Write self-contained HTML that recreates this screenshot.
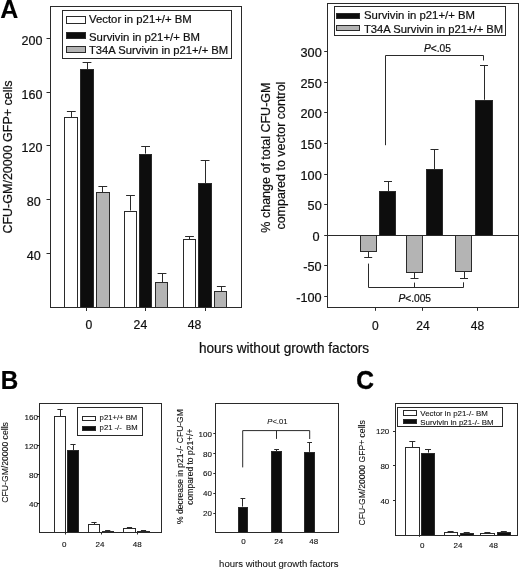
<!DOCTYPE html>
<html><head><meta charset="utf-8"><title>Figure</title>
<style>
html,body{margin:0;padding:0;background:#fff;}
body{width:520px;height:570px;overflow:hidden;}
svg{display:block;font-family:"Liberation Sans", sans-serif;}
</style></head>
<body>
<svg width="520" height="570" viewBox="0 0 520 570">
<defs><filter id="soft" x="0" y="0" width="100%" height="100%"><feGaussianBlur stdDeviation="0.35"/></filter></defs>
<rect x="0" y="0" width="520" height="570" fill="#fff"/>
<g filter="url(#soft)">
<rect x="0" y="0" width="520" height="570" fill="#fff"/>
<text font-size="25" text-anchor="start" font-weight="bold" transform="translate(0.2 17.6)" fill="#000" stroke="#000" stroke-width="0.1">A</text>
<rect x="50.50" y="6.50" width="191.00" height="301.00" fill="none" stroke="#2a2a2a" stroke-width="1"/>
<line x1="46.5" y1="38.5" x2="50.5" y2="38.5" stroke="#2a2a2a" stroke-width="1"/>
<text font-size="12.3" text-anchor="end" transform="translate(42.4 44.5) scale(1.02 1.0)" fill="#111" stroke="#111" stroke-width="0.22">200</text>
<line x1="46.5" y1="92.5" x2="50.5" y2="92.5" stroke="#2a2a2a" stroke-width="1"/>
<text font-size="12.3" text-anchor="end" transform="translate(42.4 98.5) scale(1.02 1.0)" fill="#111" stroke="#111" stroke-width="0.22">160</text>
<line x1="46.5" y1="145.5" x2="50.5" y2="145.5" stroke="#2a2a2a" stroke-width="1"/>
<text font-size="12.3" text-anchor="end" transform="translate(42.4 151.5) scale(1.02 1.0)" fill="#111" stroke="#111" stroke-width="0.22">120</text>
<line x1="46.5" y1="199.5" x2="50.5" y2="199.5" stroke="#2a2a2a" stroke-width="1"/>
<text font-size="12.3" text-anchor="end" transform="translate(40.8 205.5) scale(1.02 1.0)" fill="#111" stroke="#111" stroke-width="0.22">80</text>
<line x1="46.5" y1="253.5" x2="50.5" y2="253.5" stroke="#2a2a2a" stroke-width="1"/>
<text font-size="12.3" text-anchor="end" transform="translate(40.8 259.5) scale(1.02 1.0)" fill="#111" stroke="#111" stroke-width="0.22">40</text>
<line x1="86.5" y1="307.5" x2="86.5" y2="311" stroke="#2a2a2a" stroke-width="1"/>
<line x1="145.5" y1="307.5" x2="145.5" y2="311" stroke="#2a2a2a" stroke-width="1"/>
<line x1="205.5" y1="307.5" x2="205.5" y2="311" stroke="#2a2a2a" stroke-width="1"/>
<text font-size="12.2" text-anchor="middle" transform="translate(88.8 329)" fill="#111" stroke="#111" stroke-width="0.22">0</text>
<text font-size="12.2" text-anchor="middle" transform="translate(140.4 329)" fill="#111" stroke="#111" stroke-width="0.22">24</text>
<text font-size="12.2" text-anchor="middle" transform="translate(194.6 329)" fill="#111" stroke="#111" stroke-width="0.22">48</text>
<line x1="71.5" y1="117.3" x2="71.5" y2="111.6" stroke="#2a2a2a" stroke-width="1"/>
<line x1="66.89999999999999" y1="111.5" x2="75.7" y2="111.5" stroke="#2a2a2a" stroke-width="1"/>
<rect x="64.50" y="117.50" width="13.00" height="190.00" fill="#ffffff" stroke="#2a2a2a" stroke-width="1"/>
<line x1="87.5" y1="69.1" x2="87.5" y2="62.2" stroke="#2a2a2a" stroke-width="1"/>
<line x1="82.6" y1="62.5" x2="91.4" y2="62.5" stroke="#2a2a2a" stroke-width="1"/>
<rect x="80.50" y="69.50" width="13.00" height="238.00" fill="#080808" stroke="#2a2a2a" stroke-width="1"/>
<line x1="102.5" y1="192.2" x2="102.5" y2="186.0" stroke="#2a2a2a" stroke-width="1"/>
<line x1="98.39999999999999" y1="186.5" x2="107.2" y2="186.5" stroke="#2a2a2a" stroke-width="1"/>
<rect x="96.50" y="192.50" width="13.00" height="115.00" fill="#b4b4b4" stroke="#2a2a2a" stroke-width="1"/>
<line x1="130.5" y1="210.5" x2="130.5" y2="195.9" stroke="#2a2a2a" stroke-width="1"/>
<line x1="126.1" y1="195.5" x2="134.9" y2="195.5" stroke="#2a2a2a" stroke-width="1"/>
<rect x="124.50" y="211.50" width="12.00" height="96.00" fill="#ffffff" stroke="#2a2a2a" stroke-width="1"/>
<line x1="145.5" y1="153.6" x2="145.5" y2="146.9" stroke="#2a2a2a" stroke-width="1"/>
<line x1="141.2" y1="146.5" x2="150.0" y2="146.5" stroke="#2a2a2a" stroke-width="1"/>
<rect x="139.50" y="154.50" width="12.00" height="153.00" fill="#080808" stroke="#2a2a2a" stroke-width="1"/>
<line x1="162.5" y1="282.3" x2="162.5" y2="273.6" stroke="#2a2a2a" stroke-width="1"/>
<line x1="157.6" y1="273.5" x2="166.4" y2="273.5" stroke="#2a2a2a" stroke-width="1"/>
<rect x="155.50" y="282.50" width="12.00" height="25.00" fill="#b4b4b4" stroke="#2a2a2a" stroke-width="1"/>
<line x1="189.5" y1="239.2" x2="189.5" y2="236.7" stroke="#2a2a2a" stroke-width="1"/>
<line x1="185.1" y1="236.5" x2="193.9" y2="236.5" stroke="#2a2a2a" stroke-width="1"/>
<rect x="183.50" y="239.50" width="12.00" height="68.00" fill="#ffffff" stroke="#2a2a2a" stroke-width="1"/>
<line x1="205.5" y1="183.1" x2="205.5" y2="160.0" stroke="#2a2a2a" stroke-width="1"/>
<line x1="200.7" y1="160.5" x2="209.5" y2="160.5" stroke="#2a2a2a" stroke-width="1"/>
<rect x="198.50" y="183.50" width="13.00" height="124.00" fill="#080808" stroke="#2a2a2a" stroke-width="1"/>
<line x1="221.5" y1="291.3" x2="221.5" y2="286.5" stroke="#2a2a2a" stroke-width="1"/>
<line x1="216.9" y1="286.5" x2="225.70000000000002" y2="286.5" stroke="#2a2a2a" stroke-width="1"/>
<rect x="214.50" y="291.50" width="12.00" height="16.00" fill="#b4b4b4" stroke="#2a2a2a" stroke-width="1"/>
<rect x="62.50" y="10.50" width="169.00" height="48.00" fill="#ffffff" stroke="#2a2a2a" stroke-width="1"/>
<rect x="66.50" y="16.50" width="19.00" height="7.00" fill="#ffffff" stroke="#2a2a2a" stroke-width="1"/>
<rect x="66.50" y="32.50" width="19.00" height="6.00" fill="#080808" stroke="#2a2a2a" stroke-width="1"/>
<rect x="66.50" y="46.50" width="19.00" height="6.00" fill="#b4b4b4" stroke="#2a2a2a" stroke-width="1"/>
<text font-size="11.35" text-anchor="start" transform="translate(89.0 23.4)" fill="#111" stroke="#111" stroke-width="0.22">Vector in p21+/+ BM</text>
<text font-size="11.35" text-anchor="start" transform="translate(89.0 40.6)" fill="#111" stroke="#111" stroke-width="0.22">Survivin in p21+/+ BM</text>
<text font-size="11.35" text-anchor="start" transform="translate(89.0 53.6) scale(0.991 1.0)" fill="#111" stroke="#111" stroke-width="0.22">T34A Survivin in p21+/+ BM</text>
<text font-size="12.5" text-anchor="middle" transform="translate(12.4 157.0) rotate(-90)" fill="#111" stroke="#111" stroke-width="0.22">CFU-GM/20000 GFP+ cells</text>
<rect x="327.50" y="3.50" width="191.00" height="304.00" fill="none" stroke="#2a2a2a" stroke-width="1"/>
<line x1="324.2" y1="51.5" x2="327.6" y2="51.5" stroke="#2a2a2a" stroke-width="1"/>
<text font-size="12.0" text-anchor="end" transform="translate(321.7 56.5) scale(1.06 1.0)" fill="#111" stroke="#111" stroke-width="0.22">300</text>
<line x1="324.2" y1="82.5" x2="327.6" y2="82.5" stroke="#2a2a2a" stroke-width="1"/>
<text font-size="12.0" text-anchor="end" transform="translate(321.7 87.5) scale(1.06 1.0)" fill="#111" stroke="#111" stroke-width="0.22">250</text>
<line x1="324.2" y1="112.5" x2="327.6" y2="112.5" stroke="#2a2a2a" stroke-width="1"/>
<text font-size="12.0" text-anchor="end" transform="translate(321.7 117.5) scale(1.06 1.0)" fill="#111" stroke="#111" stroke-width="0.22">200</text>
<line x1="324.2" y1="143.5" x2="327.6" y2="143.5" stroke="#2a2a2a" stroke-width="1"/>
<text font-size="12.0" text-anchor="end" transform="translate(321.7 148.5) scale(1.06 1.0)" fill="#111" stroke="#111" stroke-width="0.22">150</text>
<line x1="324.2" y1="174.5" x2="327.6" y2="174.5" stroke="#2a2a2a" stroke-width="1"/>
<text font-size="12.0" text-anchor="end" transform="translate(321.7 179.5) scale(1.06 1.0)" fill="#111" stroke="#111" stroke-width="0.22">100</text>
<line x1="324.2" y1="204.5" x2="327.6" y2="204.5" stroke="#2a2a2a" stroke-width="1"/>
<text font-size="12.0" text-anchor="end" transform="translate(321.7 209.5) scale(1.06 1.0)" fill="#111" stroke="#111" stroke-width="0.22">50</text>
<line x1="324.2" y1="235.5" x2="327.6" y2="235.5" stroke="#2a2a2a" stroke-width="1"/>
<text font-size="12.0" text-anchor="end" transform="translate(319.6 240.5) scale(1.06 1.0)" fill="#111" stroke="#111" stroke-width="0.22">0</text>
<line x1="324.2" y1="265.5" x2="327.6" y2="265.5" stroke="#2a2a2a" stroke-width="1"/>
<text font-size="12.0" text-anchor="end" transform="translate(321.7 270.5) scale(1.06 1.0)" fill="#111" stroke="#111" stroke-width="0.22">-50</text>
<line x1="324.2" y1="296.5" x2="327.6" y2="296.5" stroke="#2a2a2a" stroke-width="1"/>
<text font-size="12.0" text-anchor="end" transform="translate(321.7 301.5) scale(1.06 1.0)" fill="#111" stroke="#111" stroke-width="0.22">-100</text>
<line x1="327.6" y1="235.5" x2="518.5" y2="235.5" stroke="#2a2a2a" stroke-width="1"/>
<line x1="375.5" y1="307.5" x2="375.5" y2="310.8" stroke="#2a2a2a" stroke-width="1"/>
<line x1="422.5" y1="307.5" x2="422.5" y2="310.8" stroke="#2a2a2a" stroke-width="1"/>
<line x1="477.5" y1="307.5" x2="477.5" y2="310.8" stroke="#2a2a2a" stroke-width="1"/>
<text font-size="12.0" text-anchor="middle" transform="translate(375.3 330.1)" fill="#111" stroke="#111" stroke-width="0.22">0</text>
<text font-size="12.0" text-anchor="middle" transform="translate(423.0 330.1)" fill="#111" stroke="#111" stroke-width="0.22">24</text>
<text font-size="12.0" text-anchor="middle" transform="translate(477.5 330.1)" fill="#111" stroke="#111" stroke-width="0.22">48</text>
<line x1="368.5" y1="251.3" x2="368.5" y2="257.1" stroke="#2a2a2a" stroke-width="1"/>
<line x1="364.2" y1="257.5" x2="372.2" y2="257.5" stroke="#2a2a2a" stroke-width="1"/>
<rect x="360.50" y="235.50" width="16.00" height="16.00" fill="#b4b4b4" stroke="#2a2a2a" stroke-width="1"/>
<line x1="388.5" y1="191.3" x2="388.5" y2="181.7" stroke="#2a2a2a" stroke-width="1"/>
<line x1="384.0" y1="181.5" x2="392.0" y2="181.5" stroke="#2a2a2a" stroke-width="1"/>
<rect x="379.50" y="191.50" width="16.00" height="44.00" fill="#080808" stroke="#2a2a2a" stroke-width="1"/>
<line x1="414.5" y1="272.3" x2="414.5" y2="278.7" stroke="#2a2a2a" stroke-width="1"/>
<line x1="410.5" y1="278.5" x2="418.5" y2="278.5" stroke="#2a2a2a" stroke-width="1"/>
<rect x="406.50" y="235.50" width="16.00" height="37.00" fill="#b4b4b4" stroke="#2a2a2a" stroke-width="1"/>
<line x1="434.5" y1="169.0" x2="434.5" y2="149.3" stroke="#2a2a2a" stroke-width="1"/>
<line x1="430.5" y1="149.5" x2="438.5" y2="149.5" stroke="#2a2a2a" stroke-width="1"/>
<rect x="426.50" y="169.50" width="16.00" height="66.00" fill="#080808" stroke="#2a2a2a" stroke-width="1"/>
<line x1="464.5" y1="271.2" x2="464.5" y2="278.0" stroke="#2a2a2a" stroke-width="1"/>
<line x1="460.0" y1="278.5" x2="468.0" y2="278.5" stroke="#2a2a2a" stroke-width="1"/>
<rect x="455.50" y="235.50" width="16.00" height="36.00" fill="#b4b4b4" stroke="#2a2a2a" stroke-width="1"/>
<line x1="484.5" y1="99.8" x2="484.5" y2="65.3" stroke="#2a2a2a" stroke-width="1"/>
<line x1="480.0" y1="65.5" x2="488.0" y2="65.5" stroke="#2a2a2a" stroke-width="1"/>
<rect x="475.50" y="100.50" width="17.00" height="135.00" fill="#080808" stroke="#2a2a2a" stroke-width="1"/>
<polyline points="385.5,145.2 385.5,55.5 483.5,55.5 483.5,60.5" fill="none" stroke="#2a2a2a" stroke-width="1"/>
<text font-size="10.2" text-anchor="start" transform="translate(424.0 51.8)" fill="#111" stroke="#111" stroke-width="0.22"><tspan font-style="italic">P</tspan>&lt;.05</text>
<polyline points="368.5,263.6 368.5,287.5 463.5,287.5 463.5,282.3" fill="none" stroke="#2a2a2a" stroke-width="1"/>
<line x1="414.5" y1="282.6" x2="414.5" y2="287.5" stroke="#2a2a2a" stroke-width="1"/>
<text font-size="10.2" text-anchor="start" transform="translate(398.4 301.6)" fill="#111" stroke="#111" stroke-width="0.22"><tspan font-style="italic">P</tspan>&lt;.005</text>
<rect x="334.50" y="6.50" width="171.00" height="29.00" fill="#ffffff" stroke="#2a2a2a" stroke-width="1"/>
<rect x="336.50" y="13.50" width="23.00" height="5.00" fill="#080808" stroke="#2a2a2a" stroke-width="1"/>
<rect x="336.50" y="25.50" width="23.00" height="5.00" fill="#b4b4b4" stroke="#2a2a2a" stroke-width="1"/>
<text font-size="11.35" text-anchor="start" transform="translate(364.0 19.2)" fill="#111" stroke="#111" stroke-width="0.22">Survivin in p21+/+ BM</text>
<text font-size="11.35" text-anchor="start" transform="translate(364.0 33.0) scale(0.991 1.0)" fill="#111" stroke="#111" stroke-width="0.22">T34A Survivin in p21+/+ BM</text>
<text font-size="12.5" text-anchor="middle" transform="translate(270.1 157.6) rotate(-90)" fill="#111" stroke="#111" stroke-width="0.22">% change of total CFU-GM</text>
<text font-size="12.5" text-anchor="middle" transform="translate(284.9 155.6) rotate(-90)" fill="#111" stroke="#111" stroke-width="0.22">compared to vector control</text>
<text font-size="14.3" text-anchor="middle" transform="translate(284.0 353.1) scale(0.952 1.0)" fill="#111" stroke="#111" stroke-width="0.22">hours without growth factors</text>
<text transform="translate(0.8 389.2) scale(0.97 1)" font-size="25" font-weight="bold" fill="#000" stroke="#000" stroke-width="0.25">B</text>
<rect x="39.50" y="403.50" width="122.00" height="129.00" fill="none" stroke="#2a2a2a" stroke-width="1"/>
<line x1="37.0" y1="416.5" x2="39.5" y2="416.5" stroke="#2a2a2a" stroke-width="1"/>
<text font-size="8.1" text-anchor="end" transform="translate(38.0 420.1)" fill="#111" stroke="#111" stroke-width="0.12">160</text>
<line x1="37.0" y1="445.5" x2="39.5" y2="445.5" stroke="#2a2a2a" stroke-width="1"/>
<text font-size="8.1" text-anchor="end" transform="translate(38.0 448.90000000000003)" fill="#111" stroke="#111" stroke-width="0.12">120</text>
<line x1="37.0" y1="474.5" x2="39.5" y2="474.5" stroke="#2a2a2a" stroke-width="1"/>
<text font-size="8.1" text-anchor="end" transform="translate(38.0 477.7)" fill="#111" stroke="#111" stroke-width="0.12">80</text>
<line x1="37.0" y1="503.5" x2="39.5" y2="503.5" stroke="#2a2a2a" stroke-width="1"/>
<text font-size="8.1" text-anchor="end" transform="translate(38.0 506.5)" fill="#111" stroke="#111" stroke-width="0.12">40</text>
<line x1="65.5" y1="532.5" x2="65.5" y2="534.5" stroke="#2a2a2a" stroke-width="1"/>
<line x1="101.5" y1="532.5" x2="101.5" y2="534.5" stroke="#2a2a2a" stroke-width="1"/>
<line x1="137.5" y1="532.5" x2="137.5" y2="534.5" stroke="#2a2a2a" stroke-width="1"/>
<text font-size="8.0" text-anchor="middle" transform="translate(64.1 546.6)" fill="#111" stroke="#111" stroke-width="0.12">0</text>
<text font-size="8.0" text-anchor="middle" transform="translate(100.0 546.6)" fill="#111" stroke="#111" stroke-width="0.12">24</text>
<text font-size="8.0" text-anchor="middle" transform="translate(137.2 546.6)" fill="#111" stroke="#111" stroke-width="0.12">48</text>
<line x1="60.5" y1="416.4" x2="60.5" y2="409.7" stroke="#2a2a2a" stroke-width="1"/>
<line x1="57.4" y1="409.5" x2="62.6" y2="409.5" stroke="#2a2a2a" stroke-width="1"/>
<rect x="54.50" y="416.50" width="11.00" height="116.00" fill="#ffffff" stroke="#2a2a2a" stroke-width="1"/>
<line x1="73.5" y1="450.2" x2="73.5" y2="444.6" stroke="#2a2a2a" stroke-width="1"/>
<line x1="70.4" y1="444.5" x2="75.6" y2="444.5" stroke="#2a2a2a" stroke-width="1"/>
<rect x="67.50" y="450.50" width="11.00" height="82.00" fill="#080808" stroke="#2a2a2a" stroke-width="1"/>
<line x1="94.5" y1="524.2" x2="94.5" y2="522.8" stroke="#2a2a2a" stroke-width="1"/>
<line x1="91.4" y1="522.5" x2="96.6" y2="522.5" stroke="#2a2a2a" stroke-width="1"/>
<rect x="88.50" y="524.50" width="11.00" height="8.00" fill="#ffffff" stroke="#2a2a2a" stroke-width="1"/>
<line x1="107.5" y1="531.0" x2="107.5" y2="530.0" stroke="#2a2a2a" stroke-width="1"/>
<line x1="105.10000000000001" y1="530.5" x2="110.3" y2="530.5" stroke="#2a2a2a" stroke-width="1"/>
<rect x="102.50" y="531.50" width="11.00" height="1.00" fill="#080808" stroke="#2a2a2a" stroke-width="1"/>
<line x1="129.5" y1="528.0" x2="129.5" y2="527.4" stroke="#2a2a2a" stroke-width="1"/>
<line x1="126.9" y1="527.5" x2="132.1" y2="527.5" stroke="#2a2a2a" stroke-width="1"/>
<rect x="123.50" y="528.50" width="12.00" height="4.00" fill="#ffffff" stroke="#2a2a2a" stroke-width="1"/>
<line x1="143.5" y1="531.0" x2="143.5" y2="530.0" stroke="#2a2a2a" stroke-width="1"/>
<line x1="140.9" y1="530.5" x2="146.1" y2="530.5" stroke="#2a2a2a" stroke-width="1"/>
<rect x="137.50" y="531.50" width="12.00" height="1.00" fill="#080808" stroke="#2a2a2a" stroke-width="1"/>
<rect x="77.50" y="407.50" width="65.00" height="28.00" fill="#ffffff" stroke="#2a2a2a" stroke-width="1"/>
<rect x="82.50" y="416.50" width="13.00" height="4.00" fill="#ffffff" stroke="#2a2a2a" stroke-width="1"/>
<rect x="82.50" y="426.50" width="13.00" height="4.00" fill="#080808" stroke="#2a2a2a" stroke-width="1"/>
<text font-size="7.7" text-anchor="start" transform="translate(99.6 419.9)" fill="#111" stroke="#111" stroke-width="0.1">p21+/+ BM</text>
<text font-size="7.7" text-anchor="start" transform="translate(99.6 430.3)" fill="#111" stroke="#111" stroke-width="0.1" xml:space="preserve">p21 -/-  BM</text>
<text font-size="9.0" text-anchor="middle" transform="translate(8.1 462.4) rotate(-90) scale(0.96 1.0)" fill="#111" stroke="#111" stroke-width="0.1">CFU-GM/20000 cells</text>
<rect x="215.50" y="403.50" width="123.00" height="129.00" fill="none" stroke="#2a2a2a" stroke-width="1"/>
<line x1="213.3" y1="433.5" x2="215.6" y2="433.5" stroke="#2a2a2a" stroke-width="1"/>
<text font-size="8.0" text-anchor="end" transform="translate(211.9 436.6000000000001)" fill="#111" stroke="#111" stroke-width="0.12">100</text>
<line x1="213.3" y1="453.5" x2="215.6" y2="453.5" stroke="#2a2a2a" stroke-width="1"/>
<text font-size="8.0" text-anchor="end" transform="translate(211.9 456.5400000000001)" fill="#111" stroke="#111" stroke-width="0.12">80</text>
<line x1="213.3" y1="473.5" x2="215.6" y2="473.5" stroke="#2a2a2a" stroke-width="1"/>
<text font-size="8.0" text-anchor="end" transform="translate(211.9 476.4800000000001)" fill="#111" stroke="#111" stroke-width="0.12">60</text>
<line x1="213.3" y1="493.5" x2="215.6" y2="493.5" stroke="#2a2a2a" stroke-width="1"/>
<text font-size="8.0" text-anchor="end" transform="translate(211.9 496.4200000000001)" fill="#111" stroke="#111" stroke-width="0.12">40</text>
<line x1="213.3" y1="513.5" x2="215.6" y2="513.5" stroke="#2a2a2a" stroke-width="1"/>
<text font-size="8.0" text-anchor="end" transform="translate(211.9 516.36)" fill="#111" stroke="#111" stroke-width="0.12">20</text>
<line x1="242.5" y1="506.6" x2="242.5" y2="498.0" stroke="#2a2a2a" stroke-width="1"/>
<line x1="240.5" y1="498.5" x2="245.3" y2="498.5" stroke="#2a2a2a" stroke-width="1"/>
<rect x="238.50" y="507.50" width="9.00" height="25.00" fill="#080808" stroke="#2a2a2a" stroke-width="1"/>
<line x1="276.5" y1="451.0" x2="276.5" y2="449.0" stroke="#2a2a2a" stroke-width="1"/>
<line x1="274.20000000000005" y1="449.5" x2="279.0" y2="449.5" stroke="#2a2a2a" stroke-width="1"/>
<rect x="271.50" y="451.50" width="10.00" height="81.00" fill="#080808" stroke="#2a2a2a" stroke-width="1"/>
<line x1="309.5" y1="451.9" x2="309.5" y2="442.4" stroke="#2a2a2a" stroke-width="1"/>
<line x1="307.20000000000005" y1="442.5" x2="312.0" y2="442.5" stroke="#2a2a2a" stroke-width="1"/>
<rect x="304.50" y="452.50" width="10.00" height="80.00" fill="#080808" stroke="#2a2a2a" stroke-width="1"/>
<polyline points="242.7,467.4 242.7,430.6 309.7,430.6 309.7,439.0" fill="none" stroke="#2a2a2a" stroke-width="1"/>
<line x1="276.5" y1="430.6" x2="276.5" y2="438.9" stroke="#2a2a2a" stroke-width="1"/>
<text font-size="7.6" text-anchor="start" transform="translate(267.3 424.3)" fill="#111" stroke="#111" stroke-width="0.1"><tspan font-style="italic">P</tspan>&lt;.01</text>
<text font-size="8.0" text-anchor="middle" transform="translate(243.5 544.3)" fill="#111" stroke="#111" stroke-width="0.12">0</text>
<text font-size="8.0" text-anchor="middle" transform="translate(278.7 544.3)" fill="#111" stroke="#111" stroke-width="0.12">24</text>
<text font-size="8.0" text-anchor="middle" transform="translate(313.8 544.3)" fill="#111" stroke="#111" stroke-width="0.12">48</text>
<text font-size="8.5" text-anchor="middle" transform="translate(182.7 466.6) rotate(-90)" fill="#111" stroke="#111" stroke-width="0.1">% decrease in p21-/- CFU-GM</text>
<text font-size="8.5" text-anchor="middle" transform="translate(193.0 466.6) rotate(-90)" fill="#111" stroke="#111" stroke-width="0.1">compared to p21+/+</text>
<text font-size="9.55" text-anchor="middle" transform="translate(278.8 567.0)" fill="#111" stroke="#111" stroke-width="0.08">hours without growth factors</text>
<text transform="translate(356.2 389.1) scale(0.94 1)" font-size="26" font-weight="bold" fill="#000" stroke="#000" stroke-width="0.5">C</text>
<rect x="395.50" y="403.50" width="122.00" height="132.00" fill="none" stroke="#2a2a2a" stroke-width="1"/>
<line x1="393.0" y1="431.5" x2="395.0" y2="431.5" stroke="#2a2a2a" stroke-width="1"/>
<text font-size="8.0" text-anchor="end" transform="translate(389.3 434.29999999999995)" fill="#111" stroke="#111" stroke-width="0.12">120</text>
<line x1="393.0" y1="465.5" x2="395.0" y2="465.5" stroke="#2a2a2a" stroke-width="1"/>
<text font-size="8.0" text-anchor="end" transform="translate(389.3 469.0)" fill="#111" stroke="#111" stroke-width="0.12">80</text>
<line x1="393.0" y1="500.5" x2="395.0" y2="500.5" stroke="#2a2a2a" stroke-width="1"/>
<text font-size="8.0" text-anchor="end" transform="translate(389.3 503.7)" fill="#111" stroke="#111" stroke-width="0.12">40</text>
<line x1="419.5" y1="535.0" x2="419.5" y2="536.8" stroke="#2a2a2a" stroke-width="1"/>
<line x1="459.5" y1="535.0" x2="459.5" y2="536.8" stroke="#2a2a2a" stroke-width="1"/>
<line x1="412.5" y1="447.4" x2="412.5" y2="441.7" stroke="#2a2a2a" stroke-width="1"/>
<line x1="409.3" y1="441.5" x2="415.3" y2="441.5" stroke="#2a2a2a" stroke-width="1"/>
<rect x="405.50" y="447.50" width="14.00" height="88.00" fill="#ffffff" stroke="#2a2a2a" stroke-width="1"/>
<line x1="428.5" y1="452.6" x2="428.5" y2="449.5" stroke="#2a2a2a" stroke-width="1"/>
<line x1="425.0" y1="449.5" x2="431.0" y2="449.5" stroke="#2a2a2a" stroke-width="1"/>
<rect x="421.50" y="453.50" width="13.00" height="82.00" fill="#080808" stroke="#2a2a2a" stroke-width="1"/>
<line x1="450.5" y1="532.1" x2="450.5" y2="531.6" stroke="#2a2a2a" stroke-width="1"/>
<line x1="447.6" y1="531.5" x2="453.6" y2="531.5" stroke="#2a2a2a" stroke-width="1"/>
<rect x="444.50" y="532.50" width="13.00" height="3.00" fill="#ffffff" stroke="#2a2a2a" stroke-width="1"/>
<line x1="466.5" y1="532.8" x2="466.5" y2="532.0" stroke="#2a2a2a" stroke-width="1"/>
<line x1="463.7" y1="532.5" x2="469.7" y2="532.5" stroke="#2a2a2a" stroke-width="1"/>
<rect x="460.50" y="533.50" width="13.00" height="2.00" fill="#080808" stroke="#2a2a2a" stroke-width="1"/>
<line x1="487.5" y1="532.8" x2="487.5" y2="532.0" stroke="#2a2a2a" stroke-width="1"/>
<line x1="484.4" y1="532.5" x2="490.4" y2="532.5" stroke="#2a2a2a" stroke-width="1"/>
<rect x="480.50" y="533.50" width="14.00" height="2.00" fill="#ffffff" stroke="#2a2a2a" stroke-width="1"/>
<line x1="503.5" y1="532.4" x2="503.5" y2="531.3" stroke="#2a2a2a" stroke-width="1"/>
<line x1="500.8" y1="531.5" x2="506.8" y2="531.5" stroke="#2a2a2a" stroke-width="1"/>
<rect x="497.50" y="532.50" width="13.00" height="3.00" fill="#080808" stroke="#2a2a2a" stroke-width="1"/>
<rect x="397.50" y="407.50" width="105.00" height="19.00" fill="#ffffff" stroke="#2a2a2a" stroke-width="1"/>
<rect x="403.50" y="410.50" width="13.00" height="5.00" fill="#ffffff" stroke="#2a2a2a" stroke-width="1"/>
<rect x="403.50" y="419.50" width="13.00" height="4.00" fill="#080808" stroke="#2a2a2a" stroke-width="1"/>
<text font-size="7.9" text-anchor="start" transform="translate(420.3 416.4)" fill="#111" stroke="#111" stroke-width="0.1">Vector in p21-/- BM</text>
<text font-size="7.9" text-anchor="start" transform="translate(420.3 424.5)" fill="#111" stroke="#111" stroke-width="0.1">Survivin in p21-/- BM</text>
<text font-size="8.0" text-anchor="middle" transform="translate(422.1 547.7)" fill="#111" stroke="#111" stroke-width="0.12">0</text>
<text font-size="8.0" text-anchor="middle" transform="translate(458.0 547.7)" fill="#111" stroke="#111" stroke-width="0.12">24</text>
<text font-size="8.0" text-anchor="middle" transform="translate(493.5 547.7)" fill="#111" stroke="#111" stroke-width="0.12">48</text>
<text font-size="8.6" text-anchor="middle" transform="translate(365.2 472.9) rotate(-90)" fill="#111" stroke="#111" stroke-width="0.1">CFU-GM/20000 GFP+ cells</text>
</g>
</svg>
</body></html>
